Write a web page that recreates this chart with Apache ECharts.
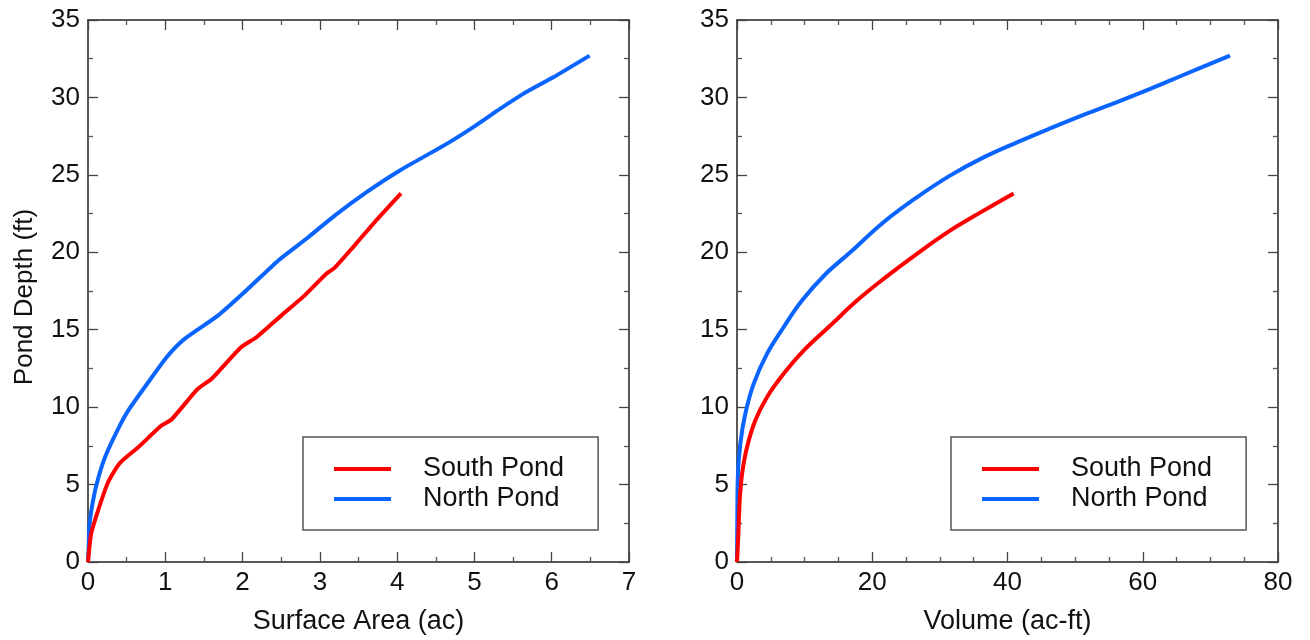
<!DOCTYPE html>
<html>
<head>
<meta charset="utf-8">
<script src="https://cdn.jsdelivr.net/npm/echarts@6/dist/echarts.min.js"></script>
<style>
  html, body { margin: 0; padding: 0; background: #fff; }
  #chart { width: 1310px; height: 640px; }
</style>
</head>
<body>
<div id="chart"></div>
<script>
// left panel: depth vs surface area
var southArea  = [0, 0.04, 0.13, 0.26, 0.41, 0.65, 0.95, 1.08, 1.42, 1.60, 1.98, 2.18, 2.50, 2.80, 3.08, 3.19, 3.45, 3.71, 4.05];
var southAreaD = [0, 1.8, 3.32, 5.15, 6.38, 7.41, 8.81, 9.2, 11.18, 11.83, 13.87, 14.51, 15.91, 17.2, 18.6, 18.99, 20.45, 21.95, 23.8];
var northArea  = [0, 0.01, 0.02, 0.065, 0.13, 0.22, 0.39, 0.52, 0.78, 1.03, 1.25, 1.68, 2.07, 2.46, 2.85, 3.2, 3.6, 4.03, 4.64, 4.98, 5.33, 5.63, 6.02, 6.49];
var northAreaD = [0, 1.2, 2.47, 3.97, 5.37, 6.77, 8.6, 9.78, 11.61, 13.3, 14.41, 15.91, 17.64, 19.46, 20.97, 22.4, 23.87, 25.27, 27.0, 28.07, 29.26, 30.23, 31.3, 32.7];

// right panel: depth vs volume
var southVol  = [0, 0.2, 0.4, 0.75, 1.48, 2.7, 4.43, 6.89, 9.85, 13.8, 17.74, 21.67, 26.6, 31.5, 36.46, 40.9];
var southVolD = [0, 1.8, 3.97, 5.69, 7.41, 9.13, 10.64, 12.15, 13.65, 15.27, 16.88, 18.28, 19.9, 21.4, 22.69, 23.8];
var northVol  = [0, 0.05, 0.12, 0.49, 1.23, 2.46, 4.43, 6.89, 9.61, 13.0, 16.75, 21.67, 26.6, 31.5, 36.46, 41.4, 46.3, 51.24, 56.2, 61.1, 66.0, 72.9];
var northVolD = [0, 3.0, 5.47, 7.63, 9.57, 11.5, 13.44, 15.16, 16.88, 18.55, 20.0, 21.94, 23.55, 24.95, 26.13, 27.1, 28.0, 28.87, 29.7, 30.55, 31.45, 32.7];

var seriesNames = ['South Pond', 'North Pond'];
var FONT = "'Liberation Sans', Arial, sans-serif";

function pairs(xs, ys) {
    var out = [];
    for (var i = 0; i < xs.length; i++) out.push([xs[i], ys[i]]);
    return out;
}

function axis(gridIndex, position, max, interval, minorSplit, labels, name, nameGap) {
    return {
        type: 'value',
        gridIndex: gridIndex,
        position: position,
        min: 0,
        max: max,
        interval: interval,
        name: name || '',
        nameLocation: 'middle',
        nameGap: nameGap || 0,
        nameTextStyle: { fontFamily: FONT, fontSize: 27, color: '#111' },
        axisLine: { show: true, onZero: false, lineStyle: { color: '#222', width: 1.5 } },
        axisTick: { show: true, inside: true, length: 10, lineStyle: { color: '#444', width: 1.3 } },
        minorTick: { show: true, splitNumber: minorSplit, length: 5, lineStyle: { color: '#555', width: 1.3 } },
        axisLabel: { show: labels, margin: 8, fontFamily: FONT, fontSize: 26, color: '#111' },
        splitLine: { show: false },
        minorSplitLine: { show: false }
    };
}

function legendAt(left) {
    return {
        data: seriesNames,
        orient: 'vertical',
        left: left,
        top: 437,
        padding: [17, 34, 16, 31],
        itemGap: 0,
        itemWidth: 57,
        itemHeight: 4,
        icon: 'rect',
        borderColor: '#555',
        borderWidth: 1.5,
        selectedMode: false,
        textStyle: { fontFamily: FONT, fontSize: 27, color: '#111', lineHeight: 30, padding: [0, 0, 0, 27] }
    };
}

function line(name, color, xi, yi, data, smooth) {
    return {
        name: name,
        type: 'line',
        xAxisIndex: xi,
        yAxisIndex: yi,
        data: data,
        showSymbol: false,
        symbol: 'none',
        smooth: smooth,
        color: color,
        lineStyle: { color: color, width: 4 },
        animation: false
    };
}

var RED = '#ff0000', BLUE = '#0a64ff';

var depthAxis = axis(0, 'left', 35, 5, 2, true, 'Pond Depth (ft)', 50);
depthAxis.nameTextStyle.fontSize = 26;
depthAxis.nameTextStyle.padding = [0, 12, 0, 0];

var chart = echarts.init(document.getElementById('chart'));
chart.setOption({
    backgroundColor: '#fff',
    animation: false,
    grid: [
        { left: 88, top: 20, width: 541, height: 542 },
        { left: 737, top: 20, width: 541, height: 542 }
    ],
    xAxis: [
        axis(0, 'bottom', 7, 1, 2, true, 'Surface Area (ac)', 46),
        axis(0, 'top', 7, 1, 2, false),
        axis(1, 'bottom', 80, 20, 4, true, 'Volume (ac-ft)', 46),
        axis(1, 'top', 80, 20, 4, false)
    ],
    yAxis: [
        depthAxis,
        axis(0, 'right', 35, 5, 2, false),
        axis(1, 'left', 35, 5, 2, true),
        axis(1, 'right', 35, 5, 2, false)
    ],
    legend: [legendAt(303), legendAt(951)],
    series: [
        line('North Pond', BLUE, 0, 0, pairs(northArea, northAreaD), 0.2),
        line('South Pond', RED, 0, 0, pairs(southArea, southAreaD), 0.2),
        line('North Pond', BLUE, 2, 2, pairs(northVol, northVolD), 0.4),
        line('South Pond', RED, 2, 2, pairs(southVol, southVolD), 0.4)
    ]
});
</script>
</body>
</html>
